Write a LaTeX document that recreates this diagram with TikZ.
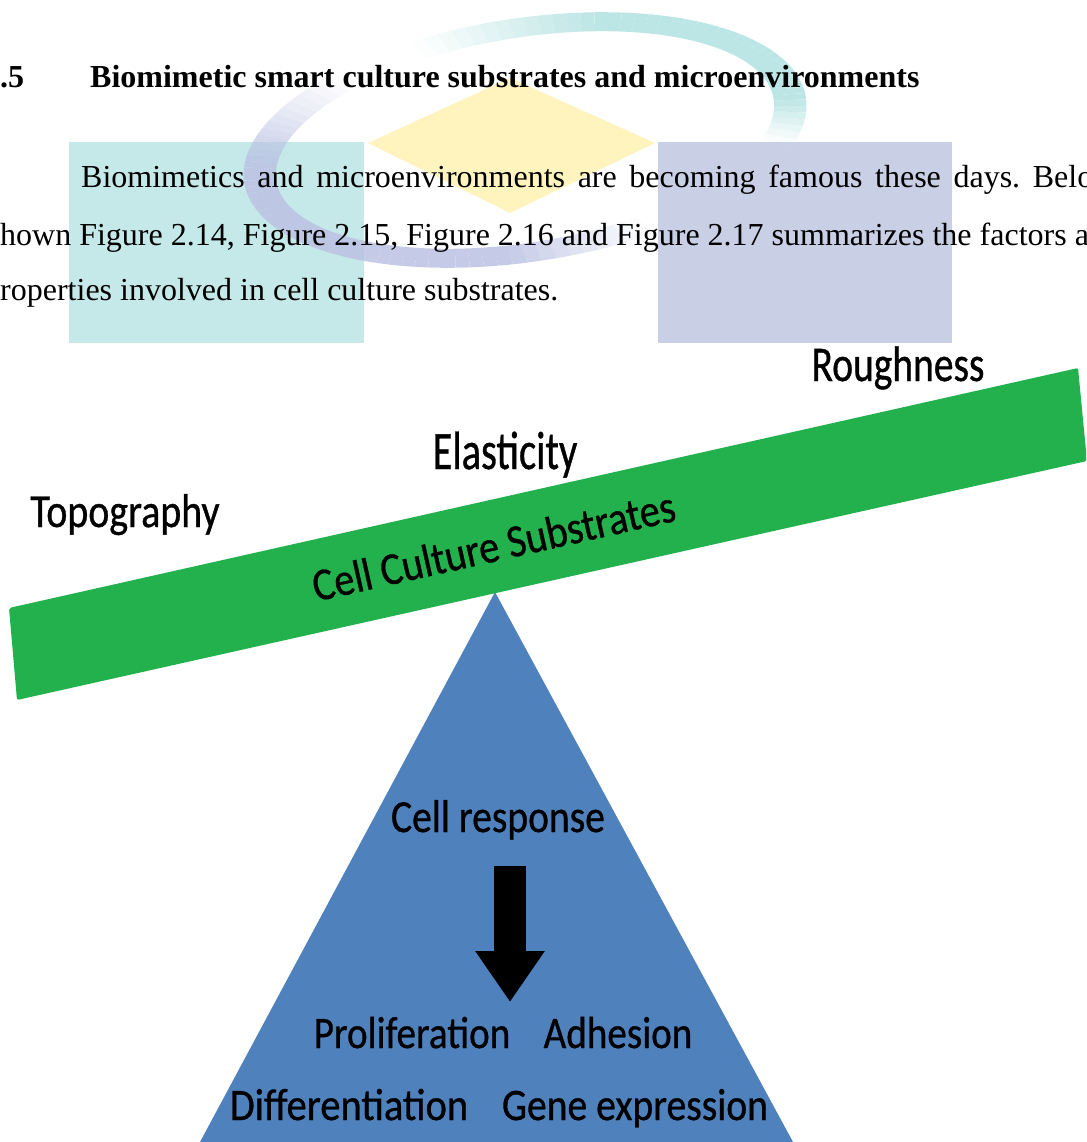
\documentclass[tikz,border=0pt]{standalone}
\usepackage{fontspec}
\setmainfont{Liberation Serif}
\newfontfamily\calibfont[FakeBold=0.8]{Carlito}
\usetikzlibrary{arrows.meta}
\frenchspacing

\definecolor{wmteal}{RGB}{197,233,233}
\definecolor{wmlav}{RGB}{201,208,230}
\definecolor{wmyel}{RGB}{255,244,190}
\definecolor{wmcyan}{RGB}{188,229,229}
\definecolor{wmpurple}{RGB}{188,194,227}
\definecolor{bargreen}{RGB}{34,177,76}
\definecolor{triblue}{RGB}{79,129,189}

\newcommand{\sizedtext}[3]{{\fontsize{#1}{#1}\selectfont\scalebox{#2}[1]{#3}}}

\tikzset{
  body/.style={anchor=base west, inner sep=0pt, font=\fontsize{32}{38}\selectfont},
  head/.style={anchor=base west, inner sep=0pt, font=\fontsize{32}{38}\selectfont\bfseries},
  lbl/.style={anchor=base, inner sep=0pt, text=black, font=\calibfont},
  blockarrow/.style={draw=black, line width=32pt, -{Triangle[width=66pt,length=51pt]}},
  wmring/.style={line width=19pt, line cap=butt}
}

\begin{document}
\begin{tikzpicture}[x=1pt,y=-1pt]
\useasboundingbox (0,0) rectangle (1086,1142);
\fill[white] (0,0) rectangle (1086,1142);
\clip (0,0) rectangle (1086,1142);

% ---------- watermark ----------
\fill[wmyel] (510,78) -- (655,143) -- (510,213) -- (368,143) -- cycle;
\fill[wmteal] (69,142) rectangle (364,343);
\fill[wmlav] (658,142) rectangle (952,343);
\begin{scope}[transform canvas={xscale=1.7}]
  \foreach \t in {250,253,...,379} {
    \pgfmathsetmacro\te{\t+3}
    \pgfmathsetmacro\op{max(0,min(1,(\t+1.5-250)/40,(382-\t-1.5)/22))}
    \draw[wmring, draw=wmcyan, draw opacity=\op]
      plot[domain=\t:\te, samples=4, smooth]
      ({(525+264.7*cos(\x)+17.52*sin(\x))/1.7},{140-41.92*cos(\x)+110.62*sin(\x)});
  }
  \foreach \t in {67,70,...,227} {
    \pgfmathsetmacro\te{\t+3}
    \pgfmathsetmacro\op{0.85*max(0,min(1,(\t+1.5-67)/30,(230-\t-1.5)/40))}
    \draw[wmring, draw=wmpurple, draw opacity=\op]
      plot[domain=\t:\te, samples=4, smooth]
      ({(525+264.7*cos(\x)+17.52*sin(\x))/1.7},{140-41.92*cos(\x)+110.62*sin(\x)});
  }
\end{scope}

% ---------- page text ----------
\node[head] (secno) at (0,88) {.5};
\node[head] (title) at (90,88) {Biomimetic smart culture substrates and microenvironments};
\node[body] (line1) at (81,188) {\makebox[1012pt][s]{Biomimetics and microenvironments are becoming famous these days. Belo}};
\node[body] (line2) at (0,245) {hown Figure 2.14, Figure 2.15, Figure 2.16 and Figure 2.17 summarizes the factors a};
\node[body] (line3) at (0,300) {roperties involved in cell culture substrates.};

% ---------- diagram ----------
\fill[triblue] (495,592) -- (793,1142) -- (200,1142) -- cycle;
\fill[bargreen, rounded corners=2pt] (9,608) -- (1078,368) -- (1087,461) -- (17,700) -- cycle;

\node[lbl, rotate=12.65] (substr) at (497,561) {\sizedtext{46}{0.88}{Cell Culture Substrates}};
\node[lbl] (topo) at (125,527) {\sizedtext{47.5}{0.84}{Topography}};
\node[lbl] (elast) at (505,469) {\sizedtext{54}{0.75}{Elasticity}};
\node[lbl] (rough) at (898,381) {\sizedtext{50}{0.79}{Roughness}};

\node[lbl] (resp) at (498,832) {\sizedtext{46}{0.86}{Cell response}};
\node[lbl] (prolif) at (412,1048) {\sizedtext{45}{0.87}{Proliferation}};
\node[lbl] (adhes) at (618,1048) {\sizedtext{45}{0.87}{Adhesion}};
\node[lbl] (differ) at (349,1120) {\sizedtext{45}{0.9}{Differentiation}};
\node[lbl] (gene) at (635,1120) {\sizedtext{45}{0.88}{Gene expression}};

\coordinate (arrS) at (510,866);
\coordinate (arrE) at (510,1002);
\draw[blockarrow] (arrS) -- (arrE);
\end{tikzpicture}
\end{document}
